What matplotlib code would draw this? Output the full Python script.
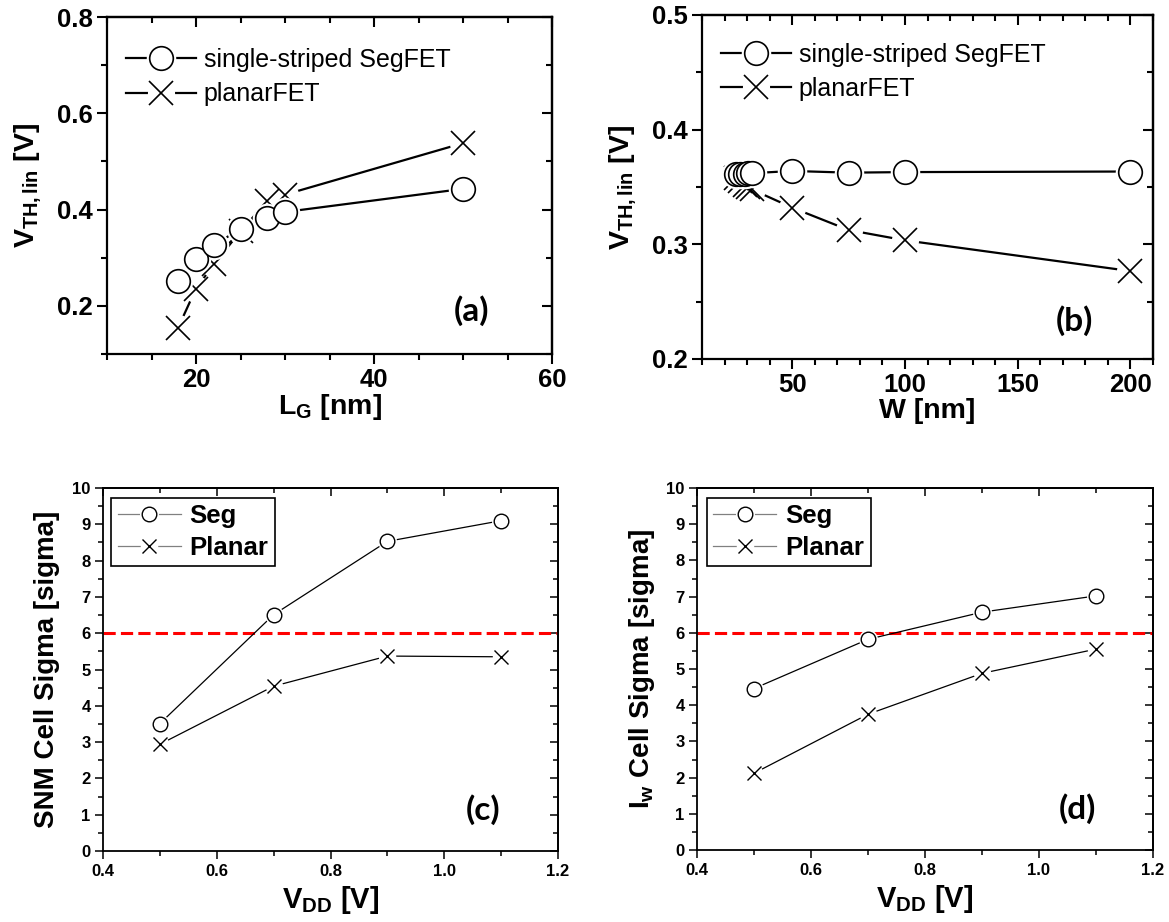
import matplotlib
matplotlib.use("Agg")
import matplotlib.pyplot as plt
from matplotlib.lines import Line2D
from matplotlib.ticker import MultipleLocator, FormatStrFormatter

plt.rcParams['font.family'] = ['Liberation Sans', 'DejaVu Sans']
plt.rcParams['mathtext.fontset'] = 'custom'
plt.rcParams['mathtext.rm'] = 'Liberation Sans'
plt.rcParams['mathtext.bf'] = 'Liberation Sans:bold'
plt.rcParams['mathtext.it'] = 'Liberation Sans:italic'

# (a) threshold voltage vs gate length
lg_seg = [18, 20, 22, 25, 28, 30, 50]
vth_lg_seg = [0.252, 0.297, 0.326, 0.360, 0.383, 0.395, 0.443]
lg_planar = [18, 20, 22, 25, 28, 30, 50]
vth_lg_planar = [0.155, 0.236, 0.286, 0.355, 0.417, 0.431, 0.538]

# (b) threshold voltage vs width
w_seg = [25, 27, 29, 30.5, 32, 50, 75, 100, 200]
vth_w_seg = [0.361, 0.361, 0.361, 0.362, 0.362, 0.364, 0.3625, 0.363, 0.3635]
w_planar = [25, 27, 29, 30.5, 32, 50, 75, 100, 200]
vth_w_planar = [0.358, 0.355, 0.352, 0.350, 0.348, 0.332, 0.3125, 0.3035, 0.2767]

# (c), (d) cell sigma vs supply voltage
vdd = [0.5, 0.7, 0.9, 1.1]
snm_seg = [3.51, 6.51, 8.53, 9.10]
snm_planar = [2.94, 4.54, 5.37, 5.35]
iw_seg = [4.46, 5.82, 6.57, 7.02]
iw_planar = [2.12, 3.75, 4.88, 5.55]
sigma_target = 6.0

top_labels = ['single-striped SegFET', 'planarFET']
bottom_labels = ['Seg', 'Planar']

W, H = 1169, 922
fig = plt.figure(figsize=(W / 100, H / 100), dpi=100)


def rect(l, r, t, b):
    return [l / W, 1 - b / H, (r - l) / W, (b - t) / H]


def series(ax, x, y, marker, ms, lw, mew, gap, z):
    ax.plot(x, y, color='black', lw=lw, zorder=z, solid_capstyle='butt')
    ax.plot(x, y, ls='none', marker='o', ms=ms * gap, mfc='white', mec='none', zorder=z + 0.1)
    ax.plot(x, y, ls='none', marker=marker, ms=ms, mew=mew,
            mfc='white' if marker == 'o' else 'none', mec='black', zorder=z + 0.2)


def handle(marker, ms, lw, mew, gap, linecolor):
    return (Line2D([], [], color=linecolor, lw=lw),
            Line2D([], [], ls='none', marker='o', ms=ms * gap, mfc='white', mec='none'),
            Line2D([], [], ls='none', marker=marker, ms=ms, mew=mew,
                   mfc='white' if marker == 'o' else 'none', mec='black'))


def frame(ax, xmaj, xmin, ymaj, ymin, spw, tlen, tw, tsize):
    for s in ax.spines.values():
        s.set_linewidth(spw)
    ax.xaxis.set_major_locator(MultipleLocator(xmaj))
    ax.xaxis.set_minor_locator(MultipleLocator(xmin))
    ax.yaxis.set_major_locator(MultipleLocator(ymaj))
    ax.yaxis.set_minor_locator(MultipleLocator(ymin))
    ax.tick_params(which='major', direction='out', length=tlen, width=tw,
                   labelsize=tsize, pad=3)
    ax.tick_params(which='minor', direction='out', length=tlen * 0.6, width=tw)
    for lab in ax.get_xticklabels() + ax.get_yticklabels():
        lab.set_fontweight('bold')
    sx = ax.secondary_xaxis('top')
    sy = ax.secondary_yaxis('right')
    for sec, axis in ((sx, sx.xaxis), (sy, sy.yaxis)):
        axis.set_major_locator(MultipleLocator(xmaj if sec is sx else ymaj))
        axis.set_minor_locator(MultipleLocator(xmin if sec is sx else ymin))
        sec.tick_params(which='major', direction='in', length=tlen, width=tw,
                        labelleft=False, labelright=False, labeltop=False, labelbottom=False)
        sec.tick_params(which='minor', direction='in', length=tlen * 0.6, width=tw)
        for s in sec.spines.values():
            s.set_linewidth(spw)


panel_font = ['Lato', 'DejaVu Sans']
vth_label = r'$\mathbf{V_{TH,lin}}$ [V]'


def vth_panel(r, xs, ys_seg, xp, ys_planar, xlim, ylim, xmaj, xmin, ymaj, ymin,
              xlabel, tag, leg_y, tag_xy):
    ax = fig.add_axes(r)
    series(ax, xp, ys_planar, 'x', 17, 1.6, 1.2, 1.15, 2)
    series(ax, xs, ys_seg, 'o', 17, 1.6, 1.2, 1.25, 3)
    ax.set_xlim(*xlim)
    ax.set_ylim(*ylim)
    frame(ax, xmaj, xmin, ymaj, ymin, 1.6, 7, 1.5, 18.5)
    ax.yaxis.set_major_formatter(FormatStrFormatter('%.1f'))
    ax.set_xlabel(xlabel, fontsize=20.5, fontweight='bold')
    ax.set_ylabel(vth_label, fontsize=20.5, fontweight='bold')
    ax.xaxis.set_label_coords(0.5, -0.112)
    ax.yaxis.set_label_coords(-0.143, 0.5)
    ax.legend([handle('o', 17, 1.6, 1.2, 1.25, 'black'),
               handle('x', 17, 1.6, 1.2, 1.15, 'black')],
              top_labels, loc='upper left', bbox_to_anchor=(0.0, leg_y), frameon=False,
              fontsize=18, handlelength=2.8, handletextpad=0.32, labelspacing=0.42,
              borderaxespad=0.35)
    ax.text(tag_xy[0], tag_xy[1], tag, transform=ax.transAxes, ha='center', va='center',
            fontsize=24, fontweight='bold', family=panel_font)
    return ax


# ---------------- (a) ----------------
vth_panel(rect(107, 552, 17, 354), lg_seg, vth_lg_seg, lg_planar, vth_lg_planar,
          (10, 60), (0.1, 0.8), 20, 5, 0.2, 0.1, r'$\mathbf{L_G}$ [nm]', '(a)',
          0.964, (0.82, 0.13))

# ---------------- (b) ----------------
vth_panel(rect(702, 1153, 15, 359), w_seg, vth_w_seg, w_planar, vth_w_planar,
          (10, 210), (0.2, 0.5), 50, 10, 0.1, 0.05, 'W [nm]', '(b)',
          0.974, (0.825, 0.113))


# ---------------- (c), (d) ----------------
def sigma_panel(r, seg, planar, ylabel, tag, ylx, leg_x):
    ax = fig.add_axes(r)
    ax.axhline(sigma_target, color='red', lw=2.2, ls=(0, (4, 1.7)), zorder=1)
    series(ax, vdd, planar, 'x', 10.5, 0.9, 1.0, 1.2, 2)
    series(ax, vdd, seg, 'o', 10.5, 0.9, 1.0, 1.3, 3)
    ax.set_xlim(0.4, 1.2)
    ax.set_ylim(0, 10)
    frame(ax, 0.2, 0.1, 1, 0.5, 1.3, 6, 1.1, 12)
    ax.xaxis.set_major_formatter(FormatStrFormatter('%.1f'))
    ax.set_xlabel(r'$\mathbf{V_{DD}}$ [V]', fontsize=21, fontweight='bold')
    ax.set_ylabel(ylabel, fontsize=20, fontweight='bold')
    ax.xaxis.set_label_coords(0.5, -0.09)
    ax.yaxis.set_label_coords(ylx, 0.5)
    leg = ax.legend([handle('o', 10.5, 0.9, 1.0, 1.3, '#808080'),
                     handle('x', 10.5, 0.9, 1.0, 1.2, '#808080')],
                    bottom_labels, loc='upper left', bbox_to_anchor=(leg_x, 0.973),
                    borderaxespad=0, fancybox=False, framealpha=1, edgecolor='black',
                    prop={'size': 18.5, 'weight': 'bold'}, handlelength=2.45,
                    handletextpad=0.35, labelspacing=0.3, borderpad=0.25)
    leg.get_frame().set_linewidth(1.2)
    ax.text(0.835, 0.114, tag, transform=ax.transAxes, ha='center', va='center',
            fontsize=24, fontweight='bold', family=panel_font)
    return ax


sigma_panel(rect(103, 558, 488, 851), snm_seg, snm_planar,
            'SNM Cell Sigma [sigma]', '(c)', -0.095, 0.018)
sigma_panel(rect(697, 1153, 488, 850), iw_seg, iw_planar,
            r'$\mathbf{I_w}$ Cell Sigma [sigma]', '(d)', -0.088, 0.022)

fig.savefig('out.png', dpi=100)
